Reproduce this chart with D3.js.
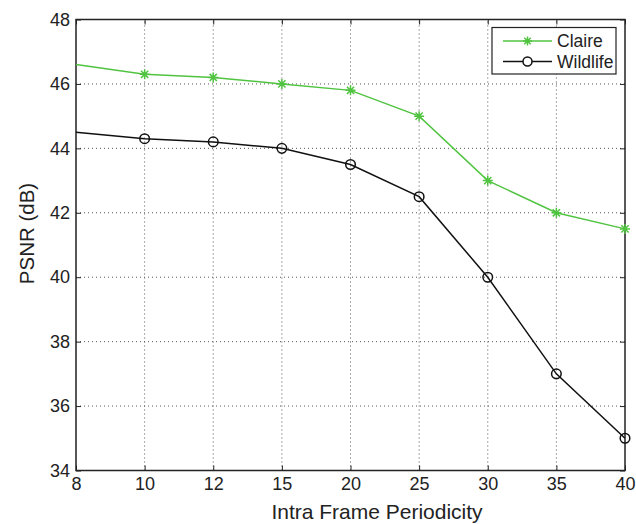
<!DOCTYPE html>
<html>
<head>
<meta charset="utf-8">
<script src="https://cdn.jsdelivr.net/npm/d3@7"></script>
<style>
  body { margin: 0; background: #fff; }
  text { font-family: "Liberation Sans", Arial, sans-serif; fill: #222; }
</style>
</head>
<body>
<svg id="chart"></svg>
<script>
var periods = ["8", "10", "12", "15", "20", "25", "30", "35", "40"];
var claire = [46.6, 46.3, 46.2, 46.0, 45.8, 45.0, 43.0, 42.0, 41.5];
var wildlife = [44.5, 44.3, 44.2, 44.0, 43.5, 42.5, 40.0, 37.0, 35.0];
var yTicks = [34, 36, 38, 40, 42, 44, 46, 48];

var width = 636, height = 524;
var margin = { left: 76, top: 19.5, right: 11, bottom: 53.5 };
var green = "#50c440";

var svg = d3.select("#chart")
  .attr("width", width)
  .attr("height", height);

var x = d3.scalePoint()
  .domain(periods)
  .range([margin.left, width - margin.right]);

var y = d3.scaleLinear()
  .domain([34, 48])
  .range([height - margin.bottom, margin.top]);

var x0 = margin.left, x1 = width - margin.right;
var y0 = height - margin.bottom, y1 = margin.top;

// grid
var grid = svg.append("g")
  .attr("stroke", "#555")
  .attr("stroke-width", 1)
  .attr("stroke-dasharray", "1,3");
grid.selectAll(".gx")
  .data(periods.slice(1, -1))
  .enter().append("line")
  .attr("x1", d => x(d)).attr("x2", d => x(d))
  .attr("y1", y0).attr("y2", y1);
grid.selectAll(".gy")
  .data(yTicks.slice(1, -1))
  .enter().append("line")
  .attr("x1", x0).attr("x2", x1)
  .attr("y1", d => y(d)).attr("y2", d => y(d));

// axes (ticks inward, MATLAB style box)
var tickLen = 5;
svg.append("g")
  .attr("transform", `translate(0,${y0})`)
  .call(d3.axisBottom(x).tickSizeInner(-tickLen).tickSizeOuter(0).tickPadding(7))
  .call(g => g.select(".domain").remove());
svg.append("g")
  .attr("transform", `translate(0,${y1})`)
  .call(d3.axisTop(x).tickSizeInner(-tickLen).tickSizeOuter(0).tickFormat(""))
  .call(g => g.select(".domain").remove());
svg.append("g")
  .attr("transform", `translate(${x0},0)`)
  .call(d3.axisLeft(y).tickValues(yTicks).tickSizeInner(-tickLen).tickSizeOuter(0).tickPadding(6).tickFormat(d3.format("d")))
  .call(g => g.select(".domain").remove());
svg.append("g")
  .attr("transform", `translate(${x1},0)`)
  .call(d3.axisRight(y).tickValues(yTicks).tickSizeInner(-tickLen).tickSizeOuter(0).tickFormat(""))
  .call(g => g.select(".domain").remove());

svg.selectAll(".tick line").attr("stroke", "#222");
svg.selectAll(".tick text")
  .style("font-size", "18px")
  .style("font-family", "Liberation Sans, Arial, sans-serif")
  .attr("fill", "#222");

svg.append("rect")
  .attr("x", x0).attr("y", y1)
  .attr("width", x1 - x0).attr("height", y0 - y1)
  .attr("fill", "none")
  .attr("stroke", "#222")
  .attr("stroke-width", 1.5);

// lines
var line = d3.line()
  .x((d, i) => x(periods[i]))
  .y(d => y(d));

function star(g, cx, cy, r, color) {
  var a = r * 0.72;
  g.append("path")
    .attr("d", `M${cx - r},${cy}L${cx + r},${cy}M${cx},${cy - r}L${cx},${cy + r}` +
      `M${cx - a},${cy - a}L${cx + a},${cy + a}M${cx - a},${cy + a}L${cx + a},${cy - a}`)
    .attr("stroke", color)
    .attr("stroke-width", 1.5)
    .attr("fill", "none");
}

svg.append("path")
  .datum(claire)
  .attr("d", line)
  .attr("fill", "none")
  .attr("stroke", green)
  .attr("stroke-width", 1.5);

var claireMarks = svg.append("g");
claire.forEach((d, i) => {
  if (i > 0) star(claireMarks, x(periods[i]), y(d), 5, green);
});

svg.append("path")
  .datum(wildlife)
  .attr("d", line)
  .attr("fill", "none")
  .attr("stroke", "#111")
  .attr("stroke-width", 1.5);

svg.append("g").selectAll("circle")
  .data(wildlife.slice(1))
  .enter().append("circle")
  .attr("cx", (d, i) => x(periods[i + 1]))
  .attr("cy", d => y(d))
  .attr("r", 4.8)
  .attr("fill", "none")
  .attr("stroke", "#111")
  .attr("stroke-width", 1.5);

// axis labels
svg.append("text")
  .attr("x", 377)
  .attr("y", 518.5)
  .attr("text-anchor", "middle")
  .style("font-size", "21px")
  .text("Intra Frame Periodicity");

svg.append("text")
  .attr("transform", "translate(33.5,233.5) rotate(-90)")
  .attr("text-anchor", "middle")
  .style("font-size", "20.5px")
  .text("PSNR (dB)");

// legend
var legend = svg.append("g");
legend.append("rect")
  .attr("x", 492).attr("y", 27.5)
  .attr("width", 124).attr("height", 46.5)
  .attr("fill", "#fff")
  .attr("stroke", "#222")
  .attr("stroke-width", 1.2);

var entries = [
  { name: "Claire", color: green, mark: "star" },
  { name: "Wildlife", color: "#111", mark: "circle" }
];
entries.forEach((e, i) => {
  var ly = 41 + i * 20.5;
  legend.append("line")
    .attr("x1", 503).attr("x2", 552)
    .attr("y1", ly).attr("y2", ly)
    .attr("stroke", e.color)
    .attr("stroke-width", 1.5);
  if (e.mark === "star") {
    star(legend, 527.5, ly, 4.5, e.color);
  } else {
    legend.append("circle")
      .attr("cx", 527.5).attr("cy", ly).attr("r", 4.5)
      .attr("fill", "#fff").attr("stroke", e.color).attr("stroke-width", 1.5);
  }
  legend.append("text")
    .attr("x", 557).attr("y", ly + 6)
    .style("font-size", "17.5px")
    .text(e.name);
});
</script>
</body>
</html>
